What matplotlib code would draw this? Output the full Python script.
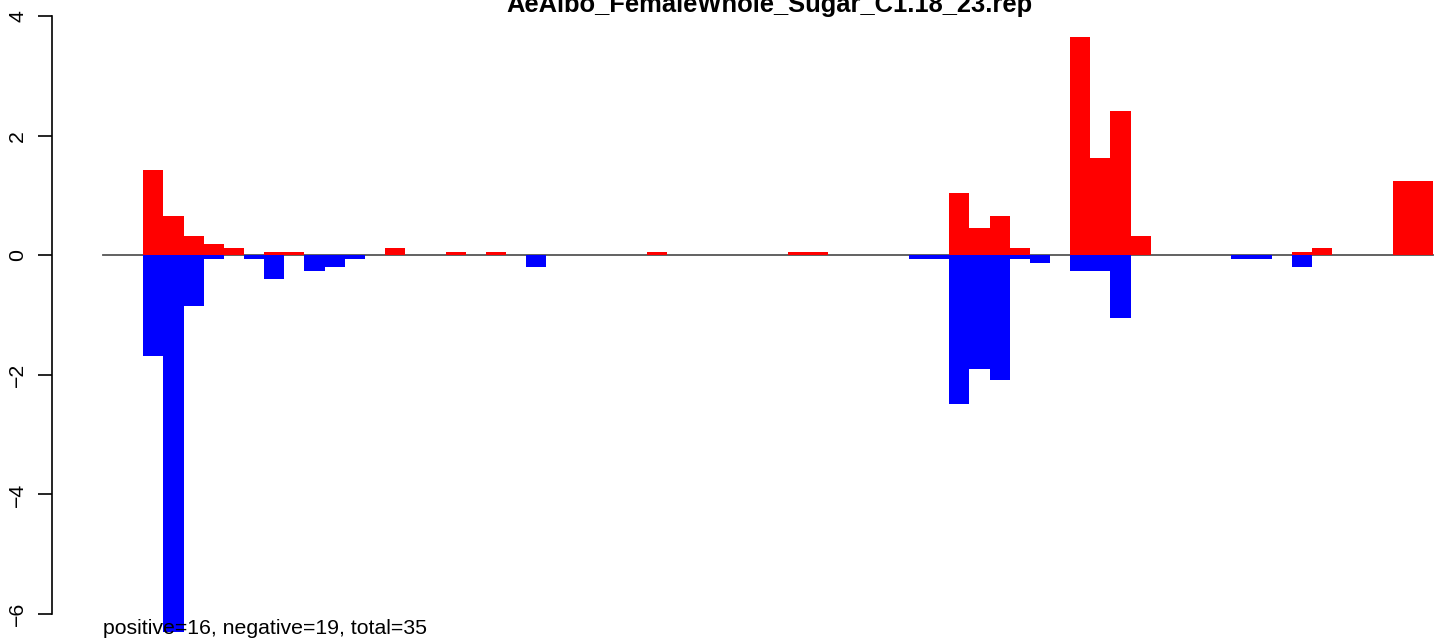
import numpy as np
import matplotlib
matplotlib.use('Agg')
import matplotlib.pyplot as plt

plt.rcParams['font.family'] = ['Liberation Sans', 'DejaVu Sans']

# Data: one slot per bar, 66 slots
n_slots = 66
pos_slots = [2, 3, 4, 5, 6, 8, 9, 14, 17, 19, 27, 34, 35, 42, 43, 44, 45,
             48, 49, 50, 51, 59, 60, 64, 65]
pos_vals = [1.42, 0.65, 0.32, 0.18, 0.12, 0.05, 0.05, 0.12, 0.05, 0.05, 0.05,
            0.05, 0.05, 1.04, 0.45, 0.65, 0.12, 3.65, 1.63, 2.41, 0.32,
            0.05, 0.12, 1.24, 1.24]
neg_slots = [2, 3, 4, 5, 7, 8, 10, 11, 12, 21, 40, 41, 42, 43, 44, 45, 46,
             48, 49, 50, 56, 57, 59]
neg_vals = [-1.69, -6.3, -0.85, -0.06, -0.06, -0.4, -0.26, -0.19, -0.06, -0.2,
            -0.06, -0.06, -2.49, -1.9, -2.09, -0.06, -0.13, -0.26, -0.26,
            -1.05, -0.06, -0.06, -0.2]
yticks = [-6, -4, -2, 0, 2, 4]
title = 'AeAlbo_FemaleWhole_Sugar_C1.18_23.rep'
footer = 'positive=16, negative=19, total=35'

W, H = 1439, 640
fig = plt.figure(figsize=(W / 100, H / 100), dpi=100)
ax = fig.add_axes([52 / W, 0, 1 - 52 / W, 1])

# zero line under the bars
ax.plot([0, n_slots], [0, 0], color='#555555', lw=1.3, zorder=1)
ax.bar(pos_slots, pos_vals, width=1, align='edge', color='#ff0000',
       linewidth=0, antialiased=False, zorder=2)
ax.bar(neg_slots, neg_vals, width=1, align='edge', color='#0000ff',
       linewidth=0, antialiased=False, zorder=2)

px = 20.15   # pixels per slot
py = 59.8    # pixels per unit
ax.set_xlim((52 - 103) / px, (W - 103) / px)
ax.set_ylim((255.2 - H) / py, 255.2 / py)

for s in ['top', 'right', 'bottom']:
    ax.spines[s].set_visible(False)
ax.spines['left'].set_bounds(-6, 4)
ax.spines['left'].set_linewidth(1.2)
ax.set_xticks([])
ax.set_yticks(yticks)
ax.set_yticklabels([str(t).replace('-', '\u2212') for t in yticks],
                   rotation=90, va='center', fontsize=15.3)
ax.tick_params(axis='y', length=10, width=1.2, pad=8)

ax.text(0, (255.2 - 634) / py, footer, fontsize=15.3, ha='left',
        va='baseline', zorder=5)
fig.text(769 / W, 1 - 12 / H, title, fontsize=18.4, fontweight='bold',
         ha='center', va='baseline')

fig.savefig('out.png', dpi=100)
